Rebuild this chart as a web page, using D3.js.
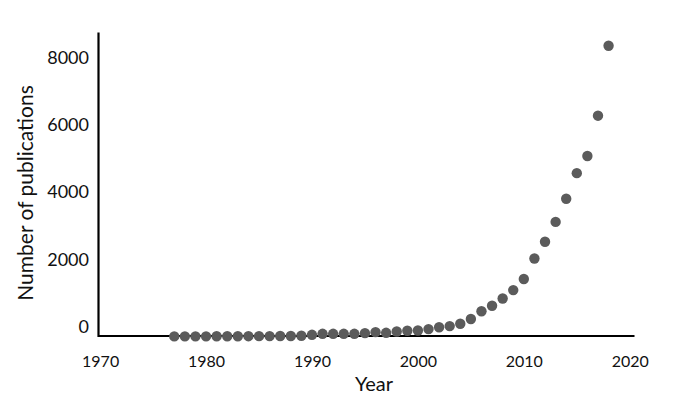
<!DOCTYPE html>
<html>
<head>
<meta charset="utf-8">
<script src="https://cdn.jsdelivr.net/npm/d3@7"></script>
<style>
  body { margin: 0; background: #fff; }
  text { font-family: Lato, "Open Sans", sans-serif; fill: #111; }
</style>
</head>
<body>
<div class="box"></div>
<script>
// DATA
const years = d3.range(1977, 2019); // 1977 .. 2018
const publications = [
  3, 4, 5, 5, 6, 7, 8, 9, 10, 12, 14, 16,
  21, 50, 80, 80, 80, 80, 100, 130, 110, 150, 170, 180,
  220, 275, 310, 380, 520, 750, 915, 1130, 1380, 1710, 2320, 2820,
  3410, 4100, 4860, 5370, 6570, 8650
];
const xTicks = [1970, 1980, 1990, 2000, 2010, 2020];
const yTicks = [0, 2000, 4000, 6000, 8000];

const data = years.map((y, i) => ({year: y, count: publications[i]}));

// SETUP
const width = 681, height = 398;
const svg = d3.select('.box')
              .append('svg')
              .attr('width', width)
              .attr('height', height);

const x = d3.scaleLinear()
            .domain([1969.8, 2020.4])
            .range([98, 634]);
const y = d3.scaleLinear()
            .domain([0, 9060])
            .range([336.5, 32]);

// axes
const axeX = d3.axisBottom(x)
               .tickValues(xTicks)
               .tickFormat(d3.format('d'))
               .tickSize(0)
               .tickSizeOuter(0)
               .tickPadding(20);
const axeY = d3.axisLeft(y)
               .tickValues(yTicks)
               .tickFormat(d3.format('d'))
               .tickSize(0)
               .tickSizeOuter(0)
               .tickPadding(9);

const groupeX = svg.append('g')
                   .attr('transform', `translate(0, ${y(0) - 1})`)
                   .call(axeX);
groupeX.selectAll('text').style('font-size', '16px');

const groupeY = svg.append('g')
                   .attr('transform', 'translate(98, 0)')
                   .call(axeY);
groupeY.selectAll('text')
       .style('font-size', '18px')
       .attr('y', -10); // labels sit a bit above their values in the original

svg.selectAll('.domain')
   .attr('stroke', '#000')
   .attr('stroke-width', 2.2);

// points
svg.append('g')
   .selectAll('circle')
   .data(data)
   .enter()
   .append('circle')
   .attr('cx', d => x(d.year))
   .attr('cy', d => y(d.count))
   .attr('r', 5.2)
   .attr('fill', '#5b5b5b');

// titles
svg.append('text')
   .text('Year')
   .attr('x', 374)
   .attr('y', 391)
   .style('text-anchor', 'middle')
   .style('font-size', '20px');

svg.append('text')
   .text('Number of publications')
   .attr('transform', 'translate(33, 193) rotate(-90)')
   .style('text-anchor', 'middle')
   .style('font-size', '21px');
</script>
</body>
</html>
